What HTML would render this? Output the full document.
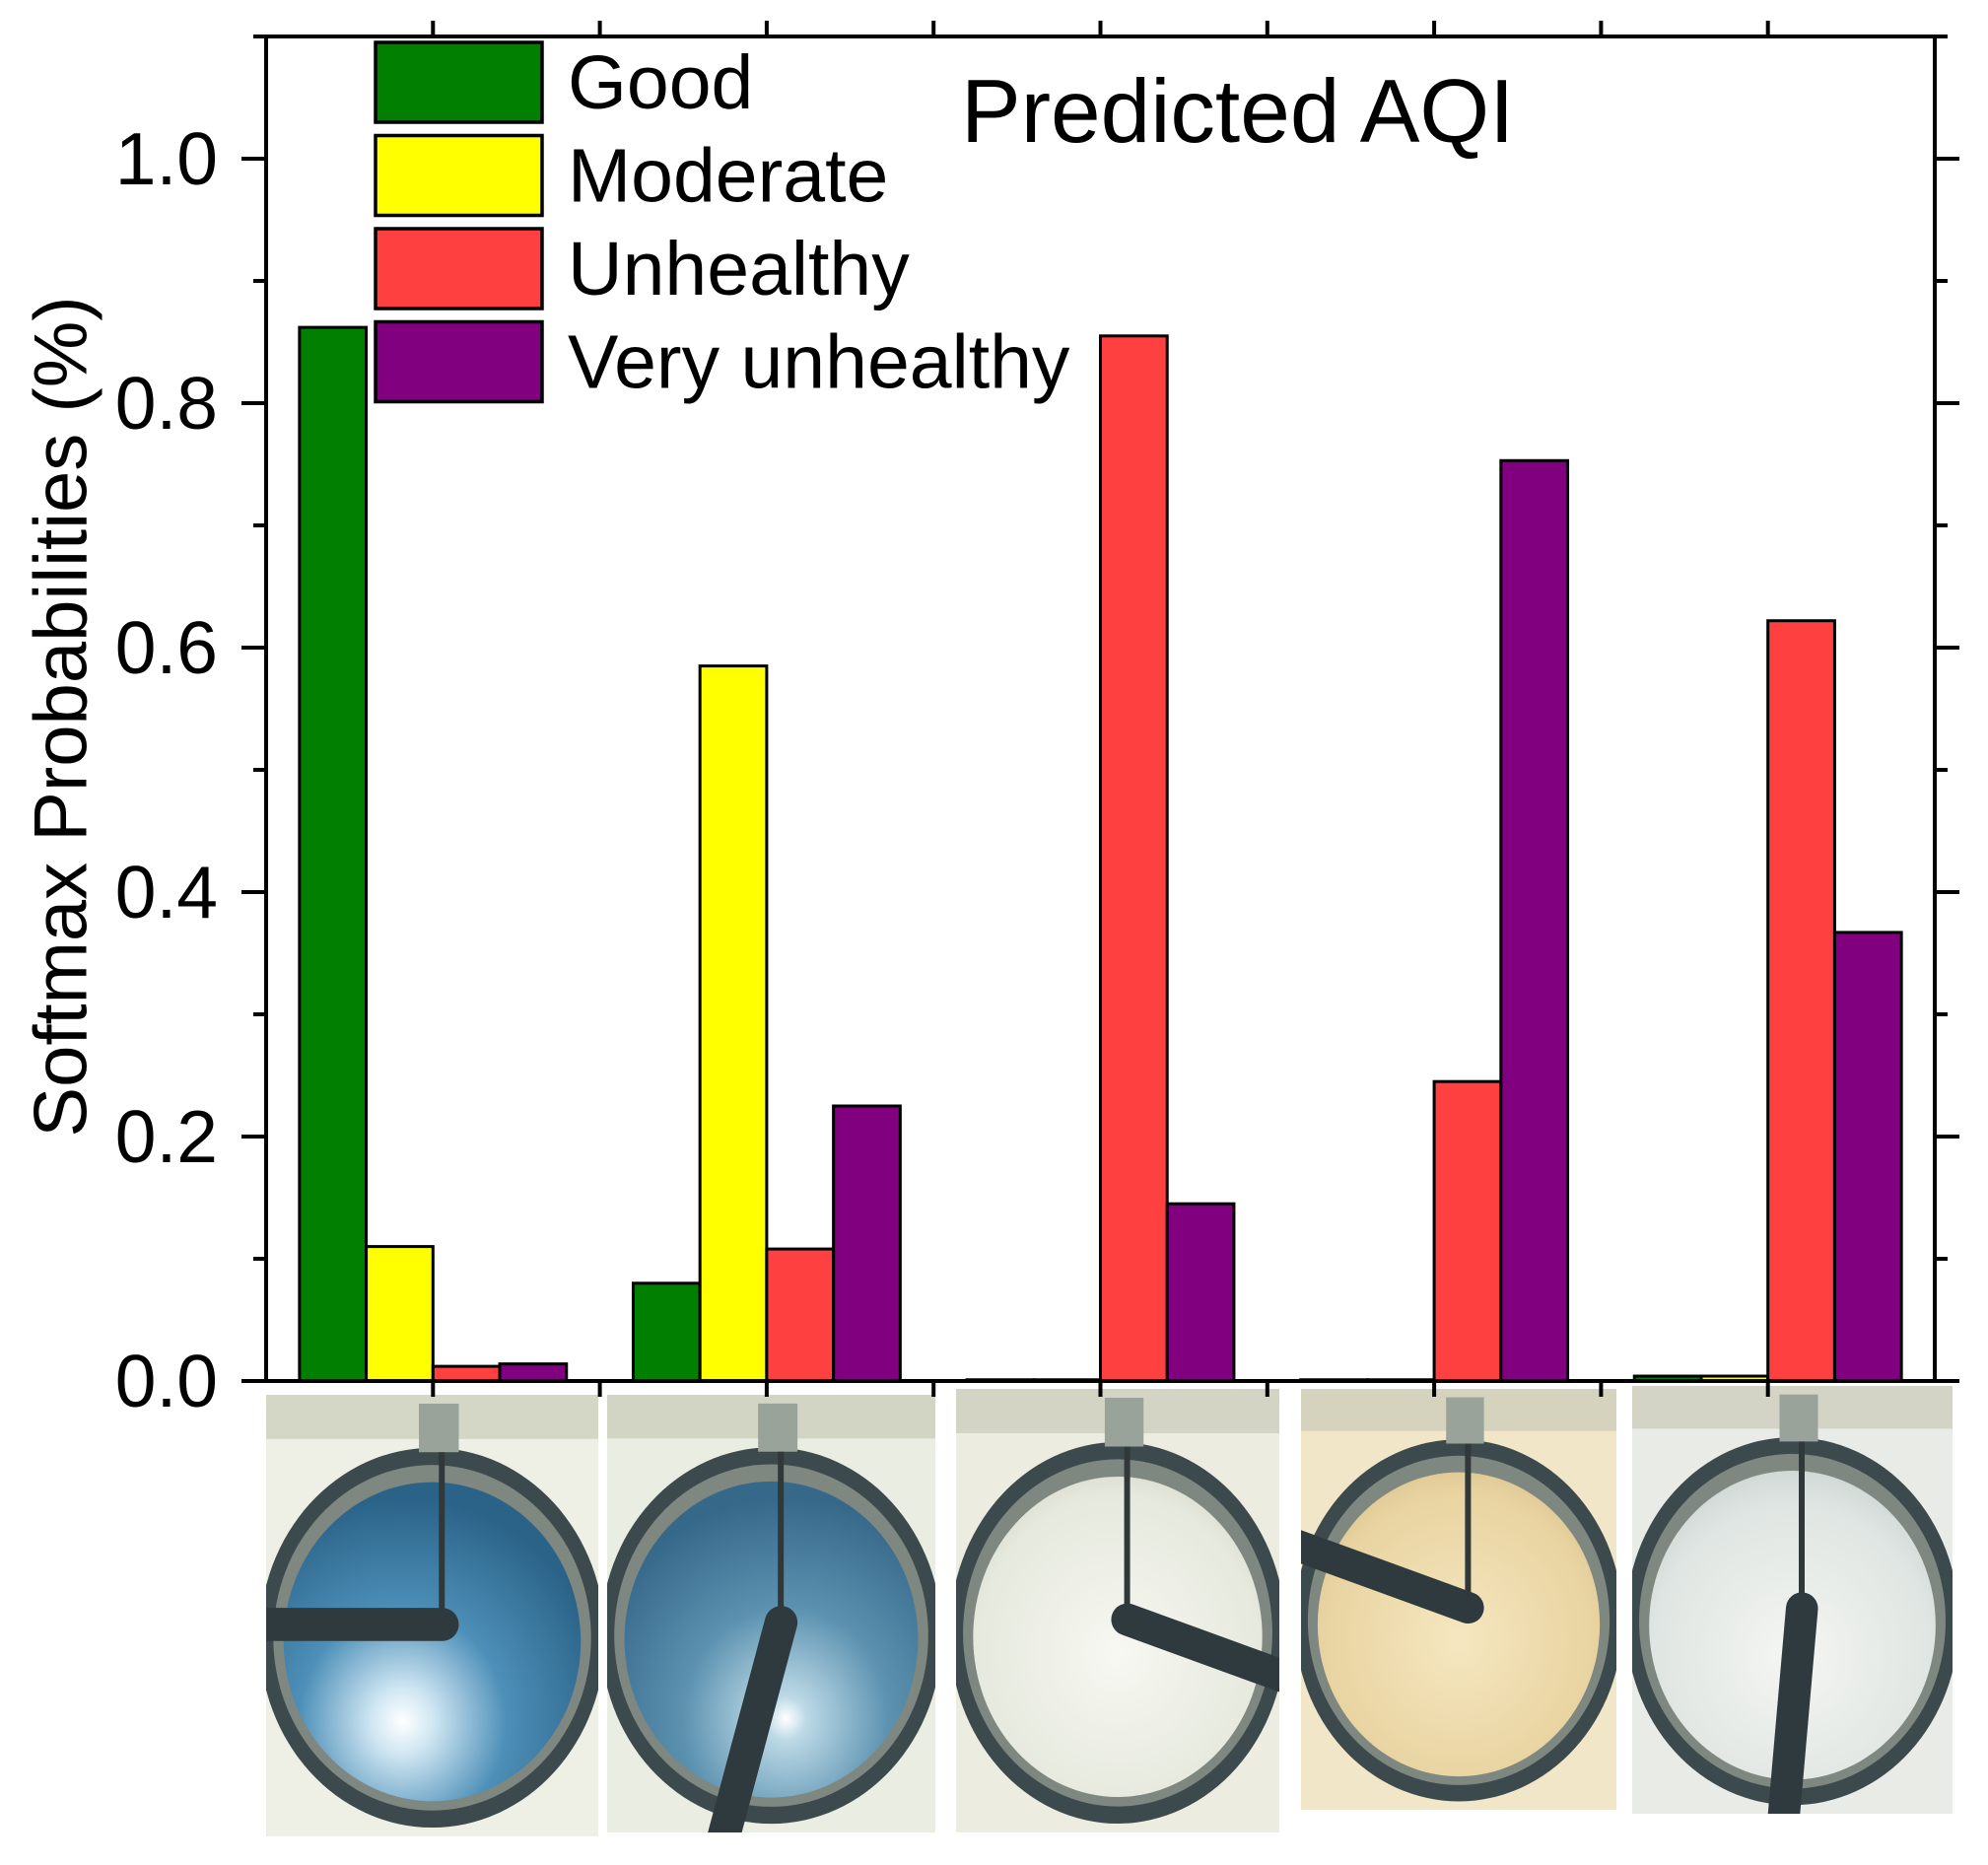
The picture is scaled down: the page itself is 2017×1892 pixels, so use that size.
<!DOCTYPE html>
<html><head><meta charset="utf-8"><style>
html,body{margin:0;padding:0;background:#fff;}
svg{display:block;font-family:"Liberation Sans",Arial,sans-serif;}
</style></head><body>
<svg id="chart" width="2017" height="1892" viewBox="0 0 2017 1892" xmlns="http://www.w3.org/2000/svg">
<defs id="defs">
<radialGradient id="sky0" cx="0.4" cy="0.75" r="0.7"><stop offset="0" stop-color="#ffffff"/><stop offset="0.15" stop-color="#cfe6f2"/><stop offset="0.5" stop-color="#4d8fb8"/><stop offset="1" stop-color="#2b6388"/></radialGradient>
<radialGradient id="sky1" cx="0.55" cy="0.75" r="0.7"><stop offset="0" stop-color="#ffffff"/><stop offset="0.1" stop-color="#bcd9e6"/><stop offset="0.5" stop-color="#5c92b0"/><stop offset="1" stop-color="#36688a"/></radialGradient>
<radialGradient id="sky2" cx="0.5" cy="0.55" r="0.7"><stop offset="0" stop-color="#f7f8f2"/><stop offset="0.7" stop-color="#e6e9dd"/><stop offset="1" stop-color="#c9cdbd"/></radialGradient>
<radialGradient id="sky3" cx="0.5" cy="0.55" r="0.7"><stop offset="0" stop-color="#f6e7c0"/><stop offset="0.7" stop-color="#e8d3a0"/><stop offset="1" stop-color="#cdb480"/></radialGradient>
<radialGradient id="sky4" cx="0.5" cy="0.6" r="0.7"><stop offset="0" stop-color="#f4f6f2"/><stop offset="0.7" stop-color="#dfe5e2"/><stop offset="1" stop-color="#c4cdca"/></radialGradient>
</defs>
<g id="photos"></g>
<g id="plot"></g>
<g id="axes"></g>
<text x="975" y="144" font-size="91">Predicted AQI</text>
<text transform="translate(62,727) rotate(-90)" text-anchor="middle" dominant-baseline="central" font-size="76">Softmax Probabilities (%)</text>
<g id="legend"></g>
</svg>
<script>
const categories = ["Image 1","Image 2","Image 3","Image 4","Image 5"];
const seriesNames = ["Good","Moderate","Unhealthy","Very unhealthy"];
const good = [0.862, 0.080, 0.001, 0.001, 0.004];
const moderate = [0.110, 0.585, 0.001, 0.001, 0.004];
const unhealthy = [0.012, 0.108, 0.855, 0.245, 0.622];
const veryUnhealthy = [0.014, 0.225, 0.145, 0.753, 0.367];
const yTickLabels = ["0.0","0.2","0.4","0.6","0.8","1.0"];
const yTickValues = [0, 0.2, 0.4, 0.6, 0.8, 1.0];

const NS="http://www.w3.org/2000/svg";
const colors=["#007f00","#ffff00","#ff4040","#800080"];
const series=[good,moderate,unhealthy,veryUnhealthy];
const L=270,R=1963,T=37,B=1401,yMax=1.1;
const y=v=>B-(v/yMax)*(B-T);
const groupW=(R-L)/categories.length;
const xc=i=>L+groupW*(i+0.5);
const barW=groupW*0.2;
function mk(tag,attrs,parent){const e=document.createElementNS(NS,tag);for(const k in attrs)e.setAttribute(k,attrs[k]);parent.appendChild(e);return e;}

const plot=document.getElementById('plot');
series.forEach((s,si)=>{s.forEach((v,ci)=>{
  const x0=xc(ci)+(si-2)*barW;
  const r=mk('rect',{x:x0,y:y(v),width:barW,height:B-y(v),fill:colors[si],stroke:'#000','stroke-width':3},plot);
  
  
});});

const ax=document.getElementById('axes');
mk('rect',{x:L,y:T,width:R-L,height:B-T,fill:'none',stroke:'#000','stroke-width':4},ax);
for(let k=0;k<=11;k++){
  const v=k*0.1,yy=y(v),maj=k%2===0,len=maj?25:13;
  mk('line',{x1:L-len,y1:yy,x2:L,y2:yy,stroke:'#000','stroke-width':4},ax);
  mk('line',{x1:R,y1:yy,x2:R+len,y2:yy,stroke:'#000','stroke-width':4},ax);
}
yTickValues.forEach((v,i)=>{
  const t=mk('text',{x:221,y:y(v)+26,'text-anchor':'end','font-size':75},ax);
  t.textContent=yTickLabels[i];
  
  
});
for(let k=1;k<categories.length*2;k++){
  const xx=L+k*groupW/2;
  mk('line',{x1:xx,y1:B,x2:xx,y2:B+16,stroke:'#000','stroke-width':4},ax);
  mk('line',{x1:xx,y1:T,x2:xx,y2:T-16,stroke:'#000','stroke-width':4},ax);
}

const lg=document.getElementById('legend');
seriesNames.forEach((n,i)=>{
  const yy=43+i*94.5;
  const r=mk('rect',{x:381,y:yy,width:169,height:81,fill:colors[i],stroke:'#000','stroke-width':3.5},lg);
  
  
  const t=mk('text',{x:576,y:yy+67,'font-size':77},lg);
  t.textContent=n;
  
  
});

const photos=document.getElementById('photos');
const defs=document.getElementById('defs');
const boxes=[[270,1415,337,448],[616,1415,333,444],[970,1409,328,450],[1320,1409,320,427],[1656,1406,325,434]];
const bg=["#eef0e6","#e9ede2","#ecece0","#f1e6c8","#e9ece6"];
const angs=[180,105,20,200,95];
const lens=[0.6,0.75,0.6,0.65,0.75];
boxes.forEach((b,i)=>{
  const [x,yy,w,h]=b;
  const cp=mk('clipPath',{id:'cp'+i},defs);
  mk('rect',{x:x,y:yy,width:w,height:h},cp);
  const g=mk('g',{'clip-path':'url(#cp'+i+')'},photos);
  
  
  mk('rect',{x:x,y:yy,width:w,height:h,fill:bg[i]},g);
  mk('rect',{x:x,y:yy,width:w,height:h*0.1,fill:'#c9cbb8',opacity:0.7},g);
  const cx=x+w*0.5,cy=yy+h*0.55,rx=w*0.52,ry=h*0.43;
  mk('ellipse',{cx:cx,cy:cy,rx:rx,ry:ry,fill:'#3c4a4e'},g);
  mk('ellipse',{cx:cx,cy:cy,rx:rx*0.92,ry:ry*0.91,fill:'#7e8780'},g);
  mk('ellipse',{cx:cx,cy:cy+4,rx:rx*0.86,ry:ry*0.84,fill:'url(#sky'+i+')'},g);
  mk('rect',{x:x+w*0.46,y:yy+h*0.02,width:w*0.12,height:h*0.11,fill:'#9aa39a'},g);
  mk('rect',{x:x+w*0.52,y:yy+h*0.13,width:6,height:h*0.37,fill:'#30383a'},g);
  const a=angs[i]*Math.PI/180;
  const ax0=x+w*0.53,ay0=yy+h*0.52;
  mk('line',{x1:ax0,y1:ay0,x2:ax0+Math.cos(a)*w*lens[i],y2:ay0+Math.sin(a)*w*lens[i],stroke:'#2f3a3e','stroke-width':w*0.1,'stroke-linecap':'round'},g);
});
</script>
</body></html>
